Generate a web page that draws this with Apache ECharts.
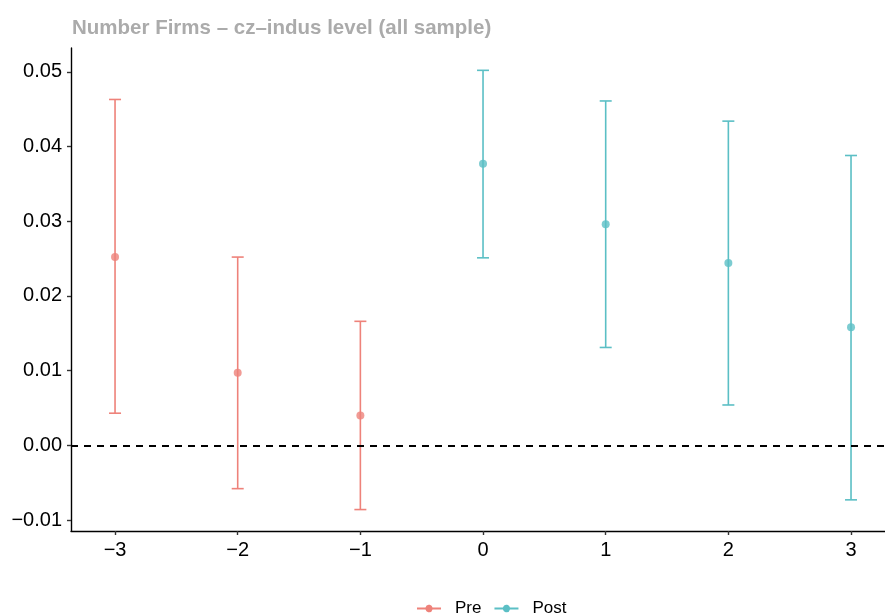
<!DOCTYPE html>
<html>
<head>
<meta charset="utf-8">
<script src="https://cdn.jsdelivr.net/npm/echarts@6/dist/echarts.min.js"></script>
<style>html,body{margin:0;padding:0;background:#fff;}#c{width:885px;height:614px;}</style>
</head>
<body>
<div id="c"></div>
<script>
// ---- data ----
var xTicks = [-3, -2, -1, 0, 1, 2, 3];
var yTicks = [-0.01, 0.00, 0.01, 0.02, 0.03, 0.04, 0.05];
var prePeriods = [-3, -2, -1];
var preEst = [0.0252, 0.0097, 0.0040];
var preLo = [0.0043, -0.0058, -0.0086];
var preHi = [0.0463, 0.0252, 0.0166];
var postPeriods = [0, 1, 2, 3];
var postEst = [0.0377, 0.0296, 0.0244, 0.0158];
var postLo = [0.0251, 0.0131, 0.0054, -0.0073];
var postHi = [0.0502, 0.0461, 0.0434, 0.0388];

var preColor = '#EE827A';
var postColor = '#5BBFC5';
var minus = function (s) { return s.replace('-', '\u2212'); };

function pts(xs, ys) { return xs.map(function (x, i) { return [x, ys[i]]; }); }
function bars(xs, lo, hi) { return xs.map(function (x, i) { return [x, lo[i], hi[i]]; }); }

function errRender(color) {
  return function (params, api) {
    var x = api.value(0), lo = api.value(1), hi = api.value(2);
    var top = api.coord([x, hi]);
    var bot = api.coord([x, lo]);
    var hw = 6;
    var st = { stroke: color, lineWidth: 1.6 };
    return {
      type: 'group',
      children: [
        { type: 'line', shape: { x1: top[0], y1: top[1], x2: bot[0], y2: bot[1] }, style: st },
        { type: 'line', shape: { x1: top[0] - hw, y1: top[1], x2: top[0] + hw, y2: top[1] }, style: st },
        { type: 'line', shape: { x1: bot[0] - hw, y1: bot[1], x2: bot[0] + hw, y2: bot[1] }, style: st }
      ]
    };
  };
}

var iconPath = 'path://M0,3.8 H8.5 A3.6,3.6 0 0 1 15.5,3.8 H24 V5.8 H15.5 A3.6,3.6 0 0 1 8.5,5.8 H0 Z';

var chart = echarts.init(document.getElementById('c'));
chart.setOption({
  animation: false,
  textStyle: { fontFamily: 'Liberation Sans, Arial, sans-serif' },
  title: {
    text: 'Number Firms \u2013 cz\u2013indus level (all sample)',
    left: 72, top: 18, padding: 0,
    textStyle: { color: '#ABABAB', fontWeight: 'bold', fontSize: 20.5, fontFamily: 'Liberation Sans, Arial, sans-serif' }
  },
  legend: {
    top: 600, left: 417, padding: 0,
    itemWidth: 24, itemHeight: 9, itemGap: 13,
    textStyle: { fontSize: 17, color: '#000', padding: [0, 0, 0, 9] },
    data: [
      { name: 'Pre', icon: iconPath, itemStyle: { color: preColor } },
      { name: 'Post', icon: iconPath, itemStyle: { color: postColor } }
    ]
  },
  grid: { left: 71, right: 0, top: 48, bottom: 83, containLabel: false },
  xAxis: {
    type: 'value', min: -3.359, max: 3.277,
    splitLine: { show: false },
    axisLine: { show: true, onZero: false, lineStyle: { color: '#000', width: 1.4 } },
    axisTick: { show: true, customValues: xTicks, length: 4, lineStyle: { color: '#333', width: 1.4 } },
    axisLabel: { customValues: xTicks, color: '#000', fontSize: 20, margin: 9, formatter: function (v) { return minus(String(v)); } }
  },
  yAxis: {
    type: 'value', min: -0.01147, max: 0.05319,
    splitLine: { show: false },
    axisLine: { show: true, onZero: false, lineStyle: { color: '#000', width: 1.4 } },
    axisTick: { show: true, customValues: yTicks, length: 4, lineStyle: { color: '#333', width: 1.4 } },
    axisLabel: { customValues: yTicks, color: '#000', fontSize: 20, margin: 9, formatter: function (v) { return minus(v.toFixed(2)); } }
  },
  series: [
    {
      name: 'Pre', type: 'custom', renderItem: errRender(preColor),
      data: bars(prePeriods, preLo, preHi), encode: { x: 0, y: [1, 2] }, z: 2,
      markLine: {
        silent: true, symbol: 'none', label: { show: false },
        lineStyle: { color: '#000', type: [7, 6], width: 1.8 },
        data: [{ yAxis: 0 }]
      }
    },
    {
      name: 'Post', type: 'custom', renderItem: errRender(postColor),
      data: bars(postPeriods, postLo, postHi), encode: { x: 0, y: [1, 2] }, z: 2
    },
    {
      name: 'Pre', type: 'scatter', symbol: 'circle', symbolSize: 8,
      itemStyle: { color: preColor }, data: pts(prePeriods, preEst), z: 3
    },
    {
      name: 'Post', type: 'scatter', symbol: 'circle', symbolSize: 8,
      itemStyle: { color: postColor }, data: pts(postPeriods, postEst), z: 3
    }
  ]
});
</script>
</body>
</html>
